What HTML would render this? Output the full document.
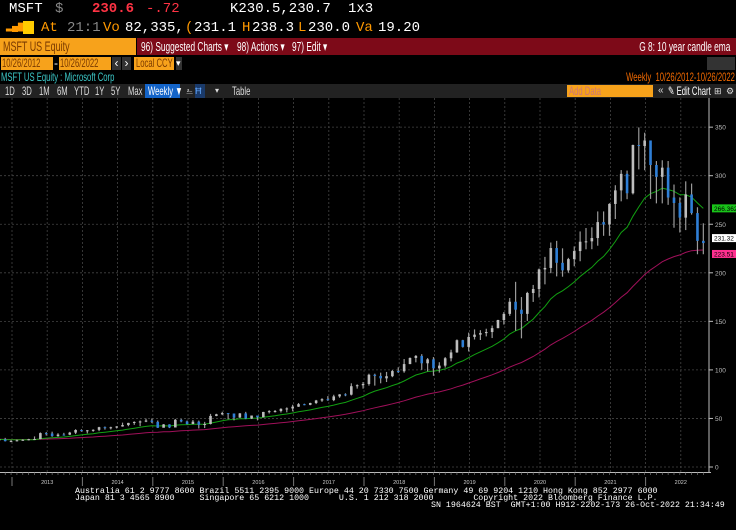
<!DOCTYPE html>
<html><head><meta charset="utf-8"><style>
body{margin:0;width:736px;height:530px;background:#000;overflow:hidden;position:relative;font-family:"Liberation Sans",sans-serif}
.a{position:absolute;white-space:nowrap}
.m{font-family:"Liberation Mono",monospace}
.c{transform:scaleX(.64);transform-origin:left center}
.cr{transform:scaleX(.64);transform-origin:right center}
</style></head><body>
<div class="a m" style="left:0;top:0;height:19px;font-size:14px;line-height:19px;color:#fff">
<span class="a" style="left:9px">MSFT</span><span class="a" style="left:55px;color:#888">$</span>
<span class="a" style="left:92px;color:#ff3344;font-weight:bold">230.6</span><span class="a" style="left:146px;color:#ff3344">-.72</span>
<span class="a" style="left:230px">K230.5,230.7</span><span class="a" style="left:348px">1x3</span></div>
<div class="a m" style="left:0;top:19px;height:18px;font-size:14px;line-height:18px;color:#fff">
<span class="a" style="left:6px;color:#f90;font-size:10px">▂▄▆</span><span class="a" style="left:23px;top:2px;width:11px;height:13px;background:#fc0"></span>
<span class="a" style="left:41px;color:#f90">At</span><span class="a" style="left:67px;color:#888">21:1</span>
<span class="a" style="left:103px;color:#f90">Vo</span><span class="a" style="left:125px">82,335,</span>
<span class="a" style="left:185px;color:#f90">(</span><span class="a" style="left:194px">231.1</span>
<span class="a" style="left:242px;color:#f90">H</span><span class="a" style="left:252px">238.3</span>
<span class="a" style="left:298px;color:#f90">L</span><span class="a" style="left:308px">230.0</span>
<span class="a" style="left:356px;color:#f90">Va</span><span class="a" style="left:378px">19.20</span></div>
<div class="a" style="left:0;top:38px;width:136px;height:17px;background:#f7a21b"><span class="a c" style="left:3px;color:#7a3a00;font-size:14px;line-height:17px">MSFT US Equity</span></div>
<div class="a" style="left:137px;top:38px;width:599px;height:17px;background:#7d0a18;color:#fff;font-size:13px;line-height:17px">
<span class="a c" style="left:4px">96) Suggested Charts ▾</span>
<span class="a c" style="left:100px">98) Actions ▾</span>
<span class="a c" style="left:155px">97) Edit ▾</span>
<span class="a cr" style="right:6px">G 8: 10 year candle ema</span></div>
<div class="a" style="left:0;top:57px;height:13px;font-size:12px;line-height:13px">
<span class="a" style="left:1px;width:52px;height:13px;background:#f7a21b"><span class="a c" style="left:1px;color:#7a3a00">10/26/2012</span></span>
<span class="a" style="left:54px;color:#fff">-</span>
<span class="a" style="left:59px;width:52px;height:13px;background:#f7a21b"><span class="a c" style="left:1px;color:#7a3a00">10/26/2022</span></span>
<span class="a" style="left:112px;width:9px;background:#333;color:#fff;text-align:center">‹</span>
<span class="a" style="left:122px;width:9px;background:#333;color:#fff;text-align:center">›</span>
<span class="a" style="left:134px;width:40px;height:13px;background:#f7a21b"><span class="a c" style="left:2px;color:#7a3a00">Local CCY</span></span>
<span class="a" style="left:176px;width:6px;background:#333;color:#fff;font-size:9px">▾</span></div>
<div class="a" style="left:707px;top:57px;width:28px;height:13px;background:#333"></div>
<div class="a c" style="left:1px;top:70px;font-size:12px;color:#3cc8c8">MSFT US Equity : Microsoft Corp</div>
<div class="a cr" style="right:1px;top:70px;font-size:12px;color:#f26a00">Weekly &nbsp;10/26/2012-10/26/2022</div>
<div class="a" style="left:0;top:84px;width:736px;height:14px;background:#222;color:#ddd;font-size:12px;line-height:14px">
<span class="a c" style="left:5px">1D</span><span class="a c" style="left:22px">3D</span>
<span class="a c" style="left:39px">1M</span><span class="a c" style="left:57px">6M</span>
<span class="a c" style="left:74px">YTD</span><span class="a c" style="left:95px">1Y</span>
<span class="a c" style="left:111px">5Y</span><span class="a c" style="left:128px">Max</span>
<span class="a" style="left:145px;width:35px;height:14px;background:#1464c8"><span class="a c" style="left:3px;color:#fff">Weekly ▼</span></span>
<span class="a" style="left:186px;font-size:9px">⎁</span><span class="a" style="left:195px;width:10px;height:14px;background:#1a3a6a;color:#6af;font-size:9px">Ħ</span>
<span class="a" style="left:215px;font-size:8px">▾</span><span class="a c" style="left:232px">Table</span>
<span class="a" style="left:567px;top:1px;width:86px;height:12px;background:#f7a21b"><span class="a c" style="left:2px;line-height:12px;color:#c77">Add Data</span></span>
<span class="a" style="left:658px;font-size:10px">«</span><span class="a c" style="left:668px;color:#fff">✎ Edit Chart</span>
<span class="a" style="left:714px;font-size:9px">⊞</span><span class="a" style="left:726px;font-size:9px">⚙</span></div>
<svg id="chart" class="a" style="left:0;top:98px" width="736" height="390"></svg>
<div class="a m" style="left:75px;top:488px;font-size:8.3px;line-height:7px;color:#fff">
Australia 61 2 9777 8600 Brazil 5511 2395 9000 Europe 44 20 7330 7500 Germany 49 69 9204 1210 Hong Kong 852 2977 6000<br>
Japan 81 3 4565 8900 &nbsp;&nbsp;&nbsp;&nbsp;Singapore 65 6212 1000 &nbsp;&nbsp;&nbsp;&nbsp;&nbsp;U.S. 1 212 318 2000 &nbsp;&nbsp;&nbsp;&nbsp;&nbsp;&nbsp;&nbsp;Copyright 2022 Bloomberg Finance L.P.<br>
<span style="padding-left:356px">SN 1964624 BST &nbsp;GMT+1:00 H912-2202-173 26-Oct-2022 21:34:49</span></div>
<script>
const startYear = 2012.82;
const closes = [28.5,26.6,26.7,27.5,28.0,28.6,28.8,34.9,34.5,31.8,33.4,33.3,35.4,38.1,37.4,37.8,38.3,41.0,40.4,40.9,41.7,43.2,45.4,46.4,46.9,47.8,46.5,40.4,43.9,40.7,48.6,46.9,44.2,46.7,43.5,44.3,52.6,54.3,55.5,55.1,50.9,55.2,49.9,53.0,51.2,56.7,57.5,57.6,59.9,60.3,62.1,64.7,64.0,65.9,68.5,69.8,68.9,72.7,74.8,74.5,83.2,84.2,85.5,95.0,93.8,91.3,93.5,98.8,98.6,106.0,112.3,114.4,106.8,110.9,101.6,104.4,112.0,118.0,130.6,123.7,134.0,136.3,137.9,139.0,143.0,151.4,157.7,170.2,162.0,157.7,179.2,183.3,203.5,205.0,225.5,210.3,202.5,214.1,222.4,232.0,232.4,235.8,252.2,249.7,270.9,284.9,301.9,281.9,331.6,330.6,336.3,311.0,298.8,308.3,277.5,271.9,256.8,280.7,261.5,232.9,230.6];
const highs = [30.0,30.0,27.8,28.2,28.6,29.0,31.5,35.6,36.0,36.4,34.8,35.2,36.2,38.9,38.9,38.0,38.8,41.4,41.7,41.5,42.1,45.7,45.5,47.0,47.9,49.8,50.0,47.9,44.2,44.0,49.5,49.5,47.8,48.4,47.8,46.5,54.7,54.8,56.9,55.6,52.2,55.6,56.8,53.0,52.3,56.8,58.5,58.7,60.5,61.4,64.1,65.9,65.2,66.2,69.1,70.8,73.0,74.4,75.0,75.9,86.2,85.1,87.5,96.1,96.1,97.2,97.9,99.9,102.7,111.2,112.8,115.3,116.2,112.2,113.2,107.9,113.2,120.8,131.4,131.0,138.4,141.7,140.9,142.4,145.7,151.6,159.6,174.0,190.7,175.0,180.4,187.5,204.4,216.4,231.2,232.9,225.2,215.4,227.2,242.6,246.1,246.9,263.2,263.2,271.7,290.2,305.8,305.3,332.0,349.7,344.3,313.2,315.1,315.9,315.1,290.9,277.7,294.2,291.9,267.5,251.0];
const lows = [26.3,26.3,26.3,26.3,27.1,27.4,28.2,28.5,32.4,31.1,31.2,32.3,32.8,33.9,36.3,34.6,36.3,36.9,38.5,38.7,39.7,41.5,42.0,43.4,42.1,46.2,45.2,40.2,40.8,40.1,40.7,46.0,43.8,44.1,39.7,40.1,43.8,52.3,53.4,49.1,48.0,50.6,49.3,49.4,48.0,51.1,55.1,56.1,56.1,56.3,57.3,61.9,63.6,63.6,64.8,67.1,68.1,67.8,71.3,72.9,73.7,80.7,80.7,83.8,83.8,86.2,87.5,92.5,96.9,97.1,105.9,107.8,100.1,98.5,93.9,97.2,102.4,108.8,117.6,123.0,119.0,131.3,130.8,134.5,132.8,142.9,146.7,155.7,140.5,132.5,150.4,170.0,174.6,188.1,199.6,196.3,196.0,200.1,206.7,211.9,224.2,224.3,227.9,238.1,238.1,255.4,273.6,275.8,280.7,306.5,305.6,276.1,271.5,271.5,270.0,246.4,241.5,244.0,259.9,219.1,219.1];
const yTicks = [0,50,100,150,200,250,300,350];
const years = [2013,2014,2015,2016,2017,2018,2019,2020,2021,2022];
const fastPeriod = 14, slowPeriod = 46;

const svg = document.getElementById('chart');
const NS = 'http://www.w3.org/2000/svg';
const X0 = 12, PXY = 70.4, Y0 = 369, PXV = 0.971;
const xT = t => X0 + (t - 2013) * PXY;
const xI = i => xT(startYear + i / 12);
const yV = v => Y0 - v * PXV;
function mk(tag, attrs) { const e = document.createElementNS(NS, tag); for (const k in attrs) e.setAttribute(k, attrs[k]); svg.appendChild(e); return e; }

for (let t = 2012.5; t < 2023; t += 0.5) {
  const g = mk('line', {x1: xT(t), x2: xT(t), y1: 0, y2: 374, stroke: '#444', 'stroke-dasharray': '2,2', 'stroke-width': 0.8});
  
  
}
yTicks.forEach(v => {
  const g = mk('line', {x1: 0, x2: 709, y1: yV(v), y2: yV(v), stroke: '#444', 'stroke-dasharray': '2,2', 'stroke-width': 0.8});
  
  
  const tk = mk('line', {x1: 709, x2: 713, y1: yV(v), y2: yV(v), stroke: '#bbb'});
  
  
  const tx = mk('text', {x: 715, y: yV(v) + 2.5, fill: '#bbb', 'font-size': 6.5, 'font-family': 'Liberation Sans'});
  tx.textContent = v;
  
  
});
const ax = mk('line', {x1: 709, x2: 709, y1: 0, y2: 374, stroke: '#bbb'});


const bx = mk('line', {x1: 0, x2: 711, y1: 374.5, y2: 374.5, stroke: '#bbb'});


for (let i = 0; i < closes.length; i += 1) {
  const tk = mk('line', {x1: xI(i), x2: xI(i), y1: 374, y2: 377, stroke: '#888', 'stroke-width': 0.6});
  
  
}
years.forEach(yr => {
  const d = mk('line', {x1: xT(yr), x2: xT(yr), y1: 379, y2: 388, stroke: '#777'});
  
  
  const tx = mk('text', {x: xT(yr + 0.5), y: 386, fill: '#ccc', 'font-size': 5.5, 'text-anchor': 'middle', 'font-family': 'Liberation Sans'});
  tx.textContent = yr;
  
  
});

function ema(arr, p) { const a = 2 / (p + 1); const out = []; let e = arr[0]; arr.forEach(v => { e = a * v + (1 - a) * e; out.push(e); }); return out; }
const slow = ema(closes, slowPeriod), fast = ema(closes, fastPeriod);
const pts = s => s.map((v, i) => xI(i).toFixed(1) + ',' + yV(v).toFixed(1)).join(' ');
const sl = mk('polyline', {points: pts(slow), fill: 'none', stroke: '#a0105a', 'stroke-width': 1});


const fl = mk('polyline', {points: pts(fast), fill: 'none', stroke: '#12a012', 'stroke-width': 1});



closes.forEach((c, i) => {
  const o = i ? closes[i - 1] : c;
  const up = c >= o, col = up ? '#bdbdbd' : '#2f7fd6';
  const x = xI(i);
  const w = mk('line', {x1: x, x2: x, y1: yV(highs[i]), y2: yV(lows[i]), stroke: '#9a9a9a', 'stroke-width': 1.2});
  
  
  const top = yV(Math.max(o, c)), bot = yV(Math.min(o, c));
  const b = mk('rect', {x: x - 1.3, y: top, width: 2.6, height: Math.max(1, bot - top), fill: col});
  
  
});

function tag(v, txt, bg, fg, dy) {
  const r = mk('rect', {x: 712, y: yV(v) - 4 + dy, width: 24, height: 8, fill: bg});
  
  
  const t = mk('text', {x: 714, y: yV(v) + 2.5 + dy, fill: fg, 'font-size': 6.5, 'font-family': 'Liberation Sans'});
  t.textContent = txt;
  
  
}
tag(fast[fast.length - 1], fast[fast.length - 1].toFixed(4), '#19c419', '#000', 0);
tag(closes[closes.length - 1], '231.32', '#fff', '#000', -5);
tag(slow[slow.length - 1], slow[slow.length - 1].toFixed(2), '#ff2f8f', '#000', 4);
</script>
</body></html>
